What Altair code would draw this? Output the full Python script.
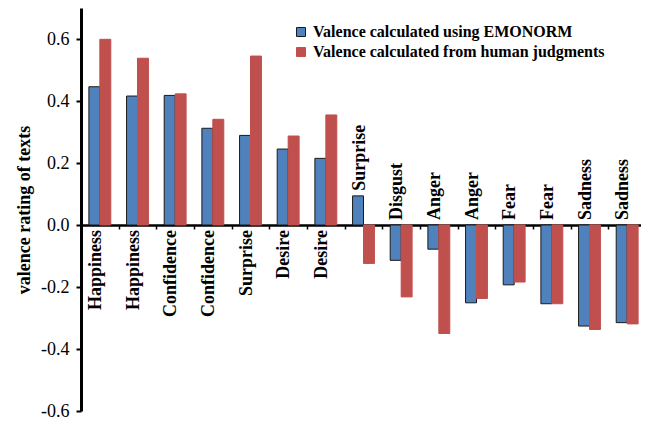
import altair as alt
import pandas as pd

categories = ["Happiness", "Happiness", "Confidence", "Confidence", "Surprise", "Desire", "Desire",
              "Surprise", "Disgust", "Anger", "Anger", "Fear", "Fear", "Sadness", "Sadness"]
emonorm = [0.446, 0.416, 0.418, 0.312, 0.289, 0.245, 0.215,
           0.094, -0.114, -0.078, -0.251, -0.193, -0.254, -0.326, -0.315]
human = [0.599, 0.538, 0.423, 0.341, 0.545, 0.287, 0.355,
         -0.124, -0.232, -0.350, -0.237, -0.184, -0.254, -0.337, -0.319]
series_names = ["Valence calculated using EMONORM", "Valence calculated from human judgments"]
series_colors = ["#4F81BD", "#C0504D"]
series_strokes = ["#1a1a1a", "#C0504D"]
y_ticks = [-0.6, -0.4, -0.2, 0.0, 0.2, 0.4, 0.6]

rows = []
for i, (c, a, b) in enumerate(zip(categories, emonorm, human)):
    rows.append({"idx": i, "series": series_names[0], "value": a})
    rows.append({"idx": i, "series": series_names[1], "value": b})
bars_df = pd.DataFrame(rows)

labels_df = pd.DataFrame({"idx": list(range(len(categories))), "label": categories,
                          "emo": emonorm, "hum": human})

FONT = "Liberation Serif"

xscale = alt.Scale(range=[0, 565], paddingInner=0, paddingOuter=0)
yscale = alt.Scale(domain=[-0.6, 0.7], nice=False, zero=False)

x_enc = alt.X("idx:O", scale=xscale,
              axis=alt.Axis(orient="bottom", offset=-186, labels=False, title=None,
                            domainColor="black", domainWidth=2.5, tickColor="black",
                            tickWidth=1.5, tickSize=4, tickBand="extent", grid=False))

bars = alt.Chart(bars_df).mark_bar(strokeWidth=1).encode(
    x=x_enc,
    xOffset=alt.XOffset("series:N", scale=alt.Scale(domain=series_names, paddingInner=0, paddingOuter=0.72)),
    y=alt.Y("value:Q", scale=yscale,
            axis=alt.Axis(values=y_ticks,
                          labelExpr="(datum.value < 0 ? '-' : '') + format(abs(datum.value), '.1f')",
                          domainColor="black", domainWidth=3, tickColor="black", tickWidth=2,
                          tickSize=5, labelFont=FONT, labelFontSize=18, labelColor="black",
                          labelPadding=7, title="valence rating of texts", titleFont=FONT,
                          titleFontSize=18, titleFontWeight="bold", titleColor="black",
                          titlePadding=7, grid=False)),
    color=alt.Color("series:N", scale=alt.Scale(domain=series_names, range=series_colors),
                    legend=alt.Legend(title=None, orient="none", legendX=212, legendY=16)),
    stroke=alt.Stroke("series:N", scale=alt.Scale(domain=series_names, range=series_strokes),
                      legend=alt.Legend(title=None, orient="none", legendX=212, legendY=16)),
)

base_text = alt.Chart(labels_df).transform_calculate(
    above="datum.emo < 0 || datum.hum < 0"
).transform_calculate(
    anchor="datum.above ? max(0, datum.emo, datum.hum) : 0"
)

below = base_text.transform_filter("!datum.above").mark_text(
    angle=270, align="right", baseline="alphabetic", dx=-5, dy=1,
    font=FONT, fontSize=18, fontWeight="bold", color="black"
).encode(x=alt.X("idx:O", scale=xscale), y=alt.Y("anchor:Q", scale=yscale), text="label:N")

above = base_text.transform_filter("datum.above").mark_text(
    angle=270, align="left", baseline="alphabetic", dx=5, dy=1,
    font=FONT, fontSize=18, fontWeight="bold", color="black"
).encode(x=alt.X("idx:O", scale=xscale), y=alt.Y("anchor:Q", scale=yscale), text="label:N")

chart = alt.layer(bars, below, above).properties(
    width=560, height=403,
    autosize=alt.AutoSizeParams(type="none"),
    padding={"left": 73, "top": 0, "right": 0, "bottom": 8},
    background="white",
).configure_view(stroke=None).configure_legend(
    symbolType="square", symbolSize=81, symbolStrokeWidth=1, labelFont=FONT,
    labelFontSize=16, labelFontWeight="bold", labelColor="black", labelOffset=4,
    rowPadding=4, labelLimit=400, padding=0
)

chart.save("out.html", embed_options={"renderer": "svg", "actions": False})
